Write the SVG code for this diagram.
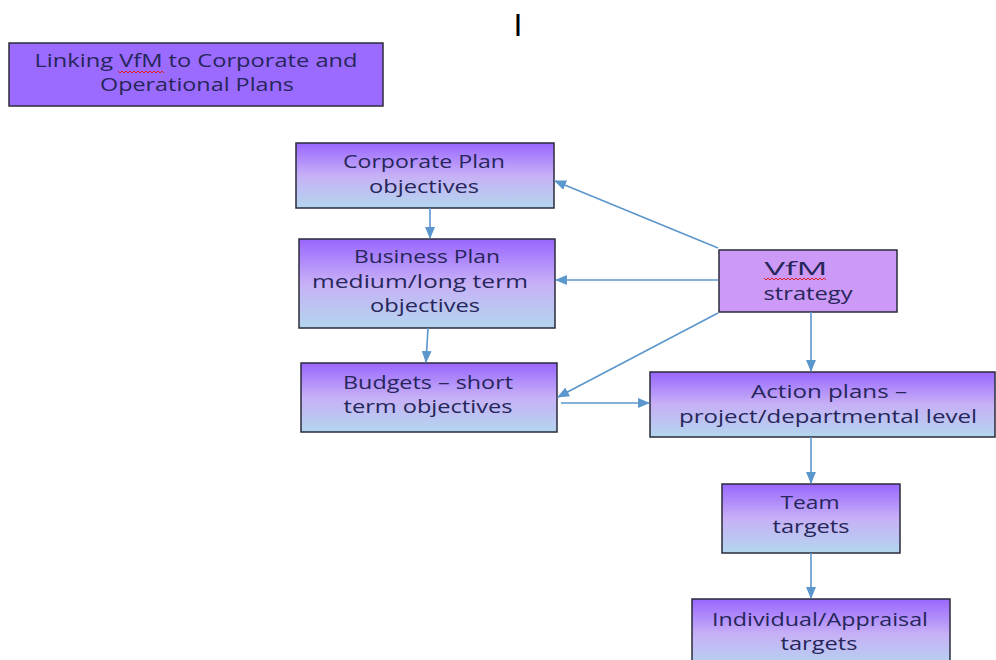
<svg xmlns="http://www.w3.org/2000/svg" width="996" height="660" viewBox="0 0 996 660">
<defs>
<linearGradient id="g" x1="0" y1="0" x2="0" y2="1">
<stop offset="0" stop-color="#9966ff"/>
<stop offset="0.5" stop-color="#c7b0f6"/>
<stop offset="1" stop-color="#b3d6ee"/>
</linearGradient>
<marker id="ah" viewBox="0 0 12 10" refX="11" refY="5" markerWidth="12" markerHeight="10" markerUnits="userSpaceOnUse" orient="auto">
<path d="M0,0 L12,5 L0,10 Z" fill="#5b96cc"/>
</marker>
<style>
.box{fill:url(#g);stroke:#2b2b3b;stroke-width:1.5}
.t{font-family:"Open Sans","Noto Sans",sans-serif;font-size:18px;font-weight:500;fill:#26265a;text-anchor:middle}
.c{stroke:#5b96cc;stroke-width:1.6;fill:none;marker-end:url(#ah)}
.sq{stroke:#e02020;stroke-width:1;fill:none}
</style>
</defs>
<rect width="996" height="660" fill="#ffffff"/>
<text x="518" y="36" font-family="Liberation Sans, sans-serif" font-size="32" fill="#000" text-anchor="middle">I</text>

<g id="title">
<rect x="9" y="43" width="374" height="63" fill="#9b6bff" stroke="#2b2b3b" stroke-width="1.5"/>
<text class="t" x="196" y="67" textLength="323" lengthAdjust="spacingAndGlyphs">Linking VfM to Corporate and</text>
<text class="t" x="197" y="91" textLength="194" lengthAdjust="spacingAndGlyphs">Operational Plans</text>
<path class="sq" d="M118,71 l2,2 l2,-2 l2,2 l2,-2 l2,2 l2,-2 l2,2 l2,-2 l2,2 l2,-2 l2,2 l2,-2 l2,2 l2,-2 l2,2 l2,-2 l2,2 l2,-2 l2,2 l2,-2 l2,2 l2,-2 l2,2"/>
</g>

<g id="corporate">
<rect class="box" x="296" y="143" width="258" height="65"/>
<text class="t" x="424" y="168" textLength="162" lengthAdjust="spacingAndGlyphs">Corporate Plan</text>
<text class="t" x="424" y="193" textLength="110" lengthAdjust="spacingAndGlyphs">objectives</text>
</g>

<g id="business">
<rect class="box" x="299" y="239" width="256" height="89"/>
<text class="t" x="427" y="263" textLength="146" lengthAdjust="spacingAndGlyphs">Business Plan</text>
<text class="t" x="420" y="288" textLength="216" lengthAdjust="spacingAndGlyphs">medium/long term</text>
<text class="t" x="425" y="312" textLength="110" lengthAdjust="spacingAndGlyphs">objectives</text>
</g>

<g id="budgets">
<rect class="box" x="301" y="363" width="256" height="69"/>
<text class="t" x="428" y="389" textLength="170" lengthAdjust="spacingAndGlyphs">Budgets – short</text>
<text class="t" x="428" y="413" textLength="169" lengthAdjust="spacingAndGlyphs">term objectives</text>
</g>

<g id="vfm">
<rect x="719" y="250" width="178" height="62" fill="#cc99f7" stroke="#2b2b3b" stroke-width="1.5"/>
<text class="t" x="796" y="275" textLength="63" lengthAdjust="spacingAndGlyphs">VfM</text>
<text class="t" x="808" y="300" textLength="89" lengthAdjust="spacingAndGlyphs">strategy</text>
<path class="sq" d="M764,278 l2,2 l2,-2 l2,2 l2,-2 l2,2 l2,-2 l2,2 l2,-2 l2,2 l2,-2 l2,2 l2,-2 l2,2 l2,-2 l2,2 l2,-2 l2,2 l2,-2 l2,2 l2,-2 l2,2 l2,-2 l2,2 l2,-2 l2,2 l2,-2 l2,2 l2,-2 l2,2 l2,-2 l2,2"/>
</g>

<g id="action">
<rect class="box" x="650" y="372" width="345" height="65"/>
<text class="t" x="829" y="398" textLength="156" lengthAdjust="spacingAndGlyphs">Action plans –</text>
<text class="t" x="828" y="423" textLength="298" lengthAdjust="spacingAndGlyphs">project/departmental level</text>
</g>

<g id="team">
<rect class="box" x="722" y="484" width="178" height="69"/>
<text class="t" x="810" y="509" textLength="59" lengthAdjust="spacingAndGlyphs">Team</text>
<text class="t" x="811" y="533" textLength="77" lengthAdjust="spacingAndGlyphs">targets</text>
</g>

<g id="individual">
<rect class="box" x="692" y="599" width="258" height="70"/>
<text class="t" x="820" y="626" textLength="216" lengthAdjust="spacingAndGlyphs">Individual/Appraisal</text>
<text class="t" x="819" y="650" textLength="77" lengthAdjust="spacingAndGlyphs">targets</text>
</g>

<g id="connectors">
<line class="c" x1="430" y1="208" x2="430" y2="238"/>
<line class="c" x1="428" y1="328" x2="426" y2="362"/>
<line class="c" x1="718" y1="248" x2="555" y2="181"/>
<line class="c" x1="718" y1="280" x2="556" y2="280"/>
<line class="c" x1="718" y1="313" x2="558" y2="397"/>
<line class="c" x1="561" y1="403" x2="649" y2="403"/>
<line class="c" x1="811" y1="312" x2="811" y2="371"/>
<line class="c" x1="811" y1="437" x2="811" y2="483"/>
<line class="c" x1="811" y1="553" x2="811" y2="598"/>
</g>
</svg>
